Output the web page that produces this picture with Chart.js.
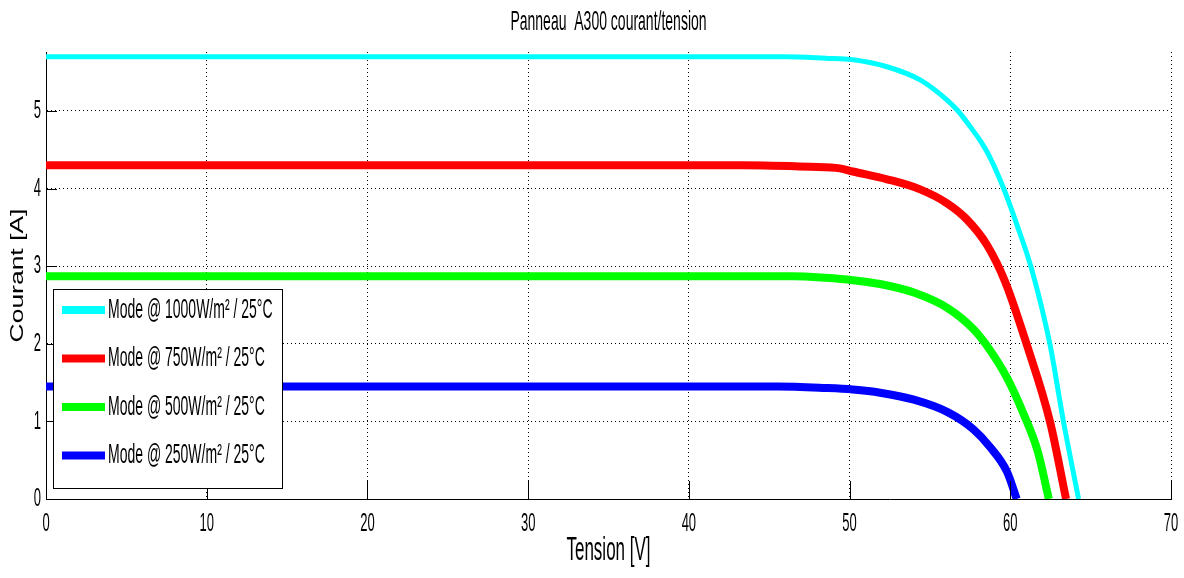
<!DOCTYPE html>
<html><head><meta charset="utf-8">
<script src="https://cdn.jsdelivr.net/npm/chart.js@4/dist/chart.umd.min.js"></script>
<style>html,body{margin:0;padding:0;background:#fff;overflow:hidden}</style>
</head><body><canvas id="c" width="1184" height="578"></canvas>
<script>
// ---- data ----
const chartTitle = 'Panneau  A300 courant/tension';
const xTitle = 'Tension [V]';
const yTitle = 'Courant [A]';
const xTicks = [0, 10, 20, 30, 40, 50, 60, 70];
const yTicks = [0, 1, 2, 3, 4, 5];
const seriesLabels = ['Mode @ 1000W/m\u00b2 / 25\u00b0C', 'Mode @ 750W/m\u00b2 / 25\u00b0C', 'Mode @ 500W/m\u00b2 / 25\u00b0C', 'Mode @ 250W/m\u00b2 / 25\u00b0C'];
const seriesColors = ['#00ffff', '#ff0000', '#00ff00', '#0000ff'];
const tension1000 = [0, 46, 48.5, 50.22, 52.33, 54.39, 56.07, 56.75, 57.5, 58.12, 58.74, 59.55, 60.42, 61.36, 62.48, 63.29, 64.25];
const courant1000 = [5.70, 5.70, 5.68, 5.66, 5.57, 5.40, 5.14, 5.00, 4.80, 4.62, 4.40, 4.02, 3.53, 2.94, 1.98, 1.02, 0];
const tension750 = [0, 43.4, 47.5, 49.4, 50.2, 52.33, 54.39, 56.07, 57.31, 58.56, 59.68, 61.04, 62.48, 63.47];
const courant750 = [4.30, 4.30, 4.28, 4.26, 4.22, 4.12, 3.99, 3.81, 3.60, 3.27, 2.80, 1.98, 0.99, 0];
const tension500 = [0, 46.5, 48.5, 50.2, 51.9, 54.0, 56.1, 57.7, 58.7, 59.8, 60.8, 61.7, 62.4];
const courant500 = [2.87, 2.87, 2.85, 2.82, 2.77, 2.66, 2.46, 2.19, 1.93, 1.56, 1.11, 0.62, 0];
const tension250 = [0, 45.5, 48.5, 50.2, 51.9, 54.0, 56.1, 57.7, 58.7, 59.8, 60.4];
const courant250 = [1.45, 1.45, 1.43, 1.41, 1.37, 1.28, 1.12, 0.90, 0.68, 0.35, 0];
const xMin = 0, xMax = 70, yMin = 0, yMax = 5.76;

// ---- tall, narrow text look (vertical stretch of glyphs, as in the reference) ----
const STRETCH = 2.0, STRETCH_ROT = 1.47;
const origFill = CanvasRenderingContext2D.prototype.fillText;
CanvasRenderingContext2D.prototype.fillText = function (text, x, y, maxWidth) {
  const m = this.getTransform();
  const s = Math.abs(m.b) > 1e-6 ? STRETCH_ROT : STRETCH;
  const p = m.transformPoint(new DOMPoint(x, y));
  this.save();
  this.setTransform(new DOMMatrix().translate(0, p.y).scale(1, s).translate(0, -p.y).multiply(m));
  if (maxWidth === undefined) origFill.call(this, text, x, y); else origFill.call(this, text, x, y, maxWidth);
  this.restore();
};

const FONT = "'Liberation Sans', Arial, sans-serif";
const pairs = (xs, ys) => xs.map((v, i) => ({ x: v, y: ys[i] }));
const series = [[tension1000, courant1000], [tension750, courant750], [tension500, courant500], [tension250, courant250]];
const widths = [5, 8, 8, 8];

const inwardTicks = {
  id: 'inwardTicks',
  afterDatasetsDraw(chart) {
    const { ctx, chartArea: a, scales: { x, y } } = chart;
    ctx.save();
    ctx.strokeStyle = '#000';
    ctx.lineWidth = 1;
    ctx.beginPath();
    xTicks.forEach(v => { const px = Math.round(x.getPixelForValue(v)) + 0.5; ctx.moveTo(px, a.bottom); ctx.lineTo(px, a.bottom - 18); });
    yTicks.forEach(v => { const py = Math.round(y.getPixelForValue(v)) + 0.5; ctx.moveTo(a.left, py); ctx.lineTo(a.left + 11, py); });
    ctx.stroke();
    ctx.restore();
  }
};

const boxLegend = {
  id: 'boxLegend',
  afterDatasetsDraw(chart) {
    const { ctx, chartArea: a } = chart;
    const bx = a.left + 7, by = a.top + 237, bw = 229, bh = 199;
    ctx.save();
    ctx.fillStyle = '#fff';
    ctx.fillRect(bx, by, bw, bh);
    ctx.strokeStyle = '#000';
    ctx.lineWidth = 1;
    ctx.strokeRect(bx + 0.5, by + 0.5, bw, bh);
    ctx.font = '14px ' + FONT;
    ctx.textBaseline = 'middle';
    ctx.textAlign = 'left';
    chart.data.datasets.forEach((ds, i) => {
      const ry = by + 21 + i * 48.5;
      ctx.strokeStyle = ds.borderColor;
      ctx.lineWidth = 8;
      ctx.beginPath();
      ctx.moveTo(bx + 9, ry);
      ctx.lineTo(bx + 52, ry);
      ctx.stroke();
      ctx.fillStyle = '#000';
      ctx.fillText(ds.label, bx + 55, ry);
    });
    ctx.restore();
  }
};

new Chart(document.getElementById('c'), {
  type: 'line',
  data: {
    datasets: series.map((s, i) => ({
      label: seriesLabels[i],
      data: pairs(s[0], s[1]),
      borderColor: seriesColors[i],
      backgroundColor: seriesColors[i],
      borderWidth: widths[i],
      pointRadius: 0,
      cubicInterpolationMode: 'monotone',
      fill: false
    }))
  },
  options: {
    responsive: false,
    animation: false,
    layout: { padding: { left: 0, right: 13, top: 0, bottom: 0 } },
    plugins: {
      legend: { display: false },
      tooltip: { enabled: false },
      title: {
        display: true, text: chartTitle, fullSize: false, color: '#000',
        font: { family: FONT, size: 14, weight: 'normal' },
        padding: { top: 14.1, bottom: 21.1 }
      }
    },
    scales: {
      x: {
        type: 'linear', min: xMin, max: xMax,
        afterFit: s => { s.height = 79; s.paddingLeft = 0; s.paddingRight = 0; },
        ticks: { stepSize: 10, color: '#000', font: { family: FONT, size: 13 }, padding: 17, maxRotation: 0, includeBounds: false },
        grid: { color: '#000', lineWidth: 1, drawTicks: false },
        border: { display: true, color: '#000', width: 1, dash: [1, 3] },
        title: { display: true, text: xTitle, color: '#000', font: { family: FONT, size: 17 }, padding: { top: 0, bottom: 16.8 } }
      },
      y: {
        type: 'linear', min: yMin, max: yMax,
        afterFit: s => { s.width = 46; s.paddingTop = 0; s.paddingBottom = 0; },
        ticks: { stepSize: 1, color: '#000', font: { family: FONT, size: 13 }, padding: 5, includeBounds: false },
        grid: { color: '#000', lineWidth: 1, drawTicks: false },
        border: { display: true, color: '#000', width: 1, dash: [1, 3] },
        title: { display: true, text: yTitle, color: '#000', font: { family: FONT, size: 18 }, padding: { top: 7.2, bottom: 0 } }
      }
    }
  },
  plugins: [inwardTicks, boxLegend]
});
</script>
</body></html>
